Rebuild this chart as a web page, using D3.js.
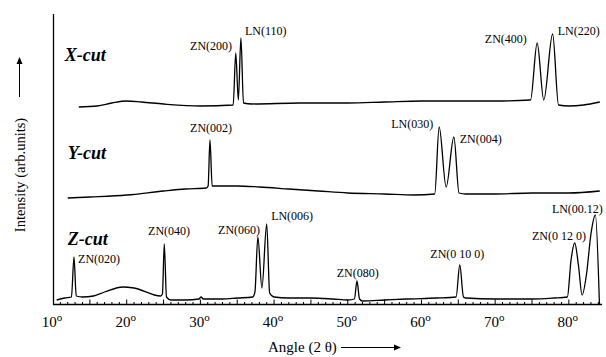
<!DOCTYPE html>
<html>
<head>
<meta charset="utf-8">
<script src="https://cdn.jsdelivr.net/npm/d3@7"></script>
<style>
  body { margin: 0; background: #fff; }
  svg { display: block; }
  svg text { font-family: "Liberation Serif", serif; }
  .trace { fill: none; stroke: #000; stroke-width: 1.3; stroke-linejoin: round; }
  .peak { font-size: 12px; }
  .cut { font-size: 18px; font-weight: bold; font-style: italic; }
</style>
</head>
<body>
<svg width="606" height="357"></svg>
<script>
// angle (2 theta, degrees) / intensity (arb. units)
var zCut = [[10.5, 4], [11.6, 6], [12.5, 7], [12.85, 47], [13.15, 8], [14, 7], [15.5, 8], [17, 12],
    [19.5, 17], [21, 16], [24.6, 8], [24.85, 10], [25.1, 60], [25.4, 7], [26, 4], [28, 4], [29.8, 5],
    [30.1, 7], [30.4, 5], [33, 5], [35, 6], [37.1, 7], [37.4, 12], [37.8, 67], [38.35, 16], [39.0, 80],
    [39.4, 11], [40, 7], [42, 6], [45, 6], [48, 5], [50, 4], [50.9, 5], [51.25, 23], [51.6, 5], [52, 3],
    [55, 4], [58, 5], [62, 6], [64.7, 7], [65.2, 39], [65.7, 7], [66, 6], [70, 5], [75, 5], [78, 6],
    [79.8, 7], [80.3, 44], [80.8, 61], [81.3, 39], [81.8, 9], [82.4, 30], [83.0, 70], [83.6, 89], [84.15, 0]];
var yCut = [[12.0, 1], [15, 2], [20, 4], [25, 8], [28, 10], [30.8, 11], [31.05, 13], [31.3, 59],
    [31.6, 13], [32, 13], [35, 13], [38, 12], [42, 10], [46, 8], [50, 6], [55, 5], [59, 4], [61.8, 5],
    [62.4, 72], [63.35, 12], [64.4, 62], [65.1, 6], [66, 5], [70, 5], [75, 6], [80, 6], [84.2, 8]];
var xCut = [[13.5, 2], [16, 3], [18, 6], [20, 8], [22, 7], [25, 5], [30, 3], [34.45, 4], [34.8, 56],
    [35.15, 9], [35.5, 71], [35.85, 6], [37, 5], [43.5, 6], [50, 6], [55, 7], [60, 8], [65, 8], [70, 8],
    [74.8, 9], [75.7, 66], [76.6, 9], [77.8, 75], [78.6, 4], [80, 3], [82, 4], [84.2, 7]];

// vertical shift of each trace
var offsets = {z: 0, y: 105, x: 195};

var tickValues = [10, 20, 30, 40, 50, 60, 70, 80];

// peak labels: text, angle, intensity (absolute)
var peakLabels = [
    ["ZN(200)", 28.6, 254], ["LN(110)", 36.05, 269], ["ZN(400)", 68.6, 261], ["LN(220)", 78.5, 269],
    ["ZN(002)", 28.6, 172], ["LN(030)", 55.9, 176], ["ZN(004)", 65.2, 161],
    ["ZN(020)", 13.4, 41], ["ZN(040)", 22.9, 69], ["ZN(060)", 32.4, 70], ["LN(006)", 39.6, 84],
    ["ZN(080)", 48.5, 27], ["ZN(0 10 0)", 61.2, 46], ["ZN(0 12 0)", 75.0, 64], ["LN(00.12)", 77.7, 91]
];
var cutLabels = [["X-cut", 11.6, 243], ["Y-cut", 12.0, 145], ["Z-cut", 12.0, 59]];

var svg = d3.select("svg");

var x = d3.scaleLinear().domain([10, 84.5]).range([53, 602]);
var y = d3.scaleLinear().domain([0, 290]).range([304, 14]);

// axes frame
svg.append("line")
    .attr("x1", 53.5).attr("x2", 53.5)
    .attr("y1", y(290)).attr("y2", y(0) + 0.5)
    .attr("stroke", "#000").attr("stroke-width", 1.3);
svg.append("line")
    .attr("x1", 53).attr("x2", x(84.5))
    .attr("y1", y(0) + 0.5).attr("y2", y(0) + 0.5)
    .attr("stroke", "#000").attr("stroke-width", 1.3);

// inward ticks every degree, longer every 5
svg.append("g")
    .selectAll("line")
    .data(d3.range(11, 85))
    .enter().append("line")
    .attr("x1", function (d) { return x(d); })
    .attr("x2", function (d) { return x(d); })
    .attr("y1", y(0) + 0.5)
    .attr("y2", function (d) { return y(0) + 0.5 - (d % 5 === 0 ? 5 : 2.5); })
    .attr("stroke", "#000").attr("stroke-width", 1);

var tl = svg.append("g")
    .selectAll("text")
    .data(tickValues)
    .enter().append("text")
    .attr("x", function (d) { return x(d) - 1; })
    .attr("y", 327)
    .attr("text-anchor", "middle")
    .style("font-size", "15px");
tl.append("tspan").text(function (d) { return d; });
tl.append("tspan").attr("dy", -6).style("font-size", "11px").text("o");

// traces
var line = d3.line()
    .x(function (d) { return x(d[0]); })
    .curve(d3.curveMonotoneX);

[[xCut, offsets.x], [yCut, offsets.y], [zCut, offsets.z]].forEach(function (t) {
    svg.append("path")
        .attr("class", "trace")
        .attr("d", line.y(function (d) { return y(d[1] + t[1]); })(t[0]));
});

svg.append("g")
    .selectAll("text")
    .data(peakLabels)
    .enter().append("text")
    .attr("class", "peak")
    .attr("x", function (d) { return x(d[1]); })
    .attr("y", function (d) { return y(d[2]); })
    .text(function (d) { return d[0]; });

svg.append("g")
    .selectAll("text")
    .data(cutLabels)
    .enter().append("text")
    .attr("class", "cut")
    .attr("x", function (d) { return x(d[1]); })
    .attr("y", function (d) { return y(d[2]); })
    .text(function (d) { return d[0]; });

// axis titles with arrows
svg.append("text")
    .attr("x", 268).attr("y", 352)
    .style("font-size", "15px")
    .text("Angle (2 θ)");
svg.append("line")
    .attr("x1", 341).attr("x2", 396).attr("y1", 347.5).attr("y2", 347.5)
    .attr("stroke", "#000").attr("stroke-width", 1);
svg.append("path")
    .attr("d", "M394,344.5L401,347.5L394,350.5Z").attr("fill", "#000");

svg.append("text")
    .attr("transform", "translate(25,175) rotate(-90)")
    .attr("text-anchor", "middle")
    .style("font-size", "14.5px")
    .text("Intensity (arb.units)");
svg.append("line")
    .attr("x1", 19.5).attr("x2", 19.5).attr("y1", 97).attr("y2", 62)
    .attr("stroke", "#000").attr("stroke-width", 1);
svg.append("path")
    .attr("d", "M16.5,64L19.5,57L22.5,64Z").attr("fill", "#000");
</script>
</body>
</html>
